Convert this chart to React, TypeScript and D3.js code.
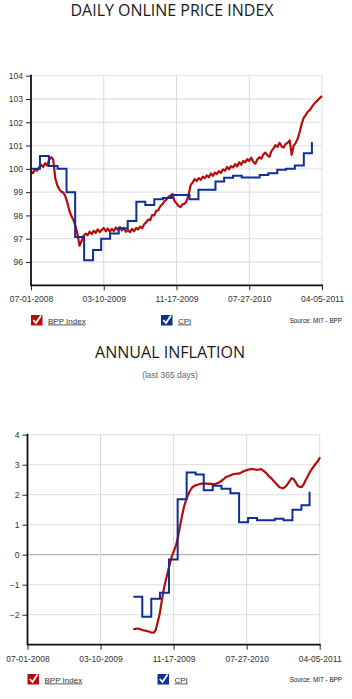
import { useEffect, useRef } from 'react';
import * as d3 from 'd3';

// x axis tick dates (shared by both panels)
const tickDates = ['2008-07-01', '2009-03-10', '2009-11-17', '2010-07-27', '2011-04-05'];

// top panel: index level
const indexTicks = [96, 97, 98, 99, 100, 101, 102, 103, 104];
const cpiIndexStart = '2008-07-01'; // monthly steps
const cpiIndex = [
  100.0, 100.55, 100.12, 100.0, 99.0, 97.07, 96.08, 96.52, 97.0, 97.22, 97.45, 97.76,
  98.59, 98.45, 98.7, 98.75, 98.88, 98.88, 98.7, 99.1, 99.1, 99.46, 99.62, 99.7,
  99.63, 99.63, 99.74, 99.81, 99.96, 100.0, 100.14, 100.67, 101.15,
];
const bppIndexStart = '2008-07-01'; // weekly
const bppIndex = [
  99.88, 99.82, 99.99, 99.92, 100.05, 100.18, 100.08, 100.24, 100.14, 100.4,
  100.5, 100.4, 99.6, 99.3, 99.12, 99.02, 98.98, 98.82, 98.55, 98.2,
  97.98, 97.8, 97.55, 97.2, 96.7, 96.9, 97.12, 97.22, 97.15, 97.3,
  97.2, 97.34, 97.25, 97.4, 97.28, 97.38, 97.46, 97.32, 97.44, 97.3,
  97.42, 97.33, 97.48, 97.38, 97.5, 97.36, 97.46, 97.3, 97.38, 97.28,
  97.42, 97.32, 97.46, 97.4, 97.52, 97.45, 97.62, 97.7, 97.82, 97.8,
  98.02, 98.0, 98.2, 98.22, 98.4, 98.48, 98.6, 98.68, 98.8, 98.84,
  98.92, 98.62, 98.52, 98.4, 98.36, 98.48, 98.5, 98.62, 98.9, 99.3,
  99.42, 99.56, 99.48, 99.6, 99.52, 99.66, 99.6, 99.72, 99.64, 99.8,
  99.7, 99.84, 99.78, 99.9, 99.82, 99.98, 99.92, 100.08, 99.98, 100.12,
  100.06, 100.2, 100.1, 100.28, 100.18, 100.34, 100.28, 100.42, 100.34, 100.48,
  100.3, 100.22, 100.4, 100.5, 100.44, 100.62, 100.7, 100.58, 100.52, 100.76,
  100.88, 101.02, 100.94, 101.12, 100.96, 100.92, 101.06, 101.12, 101.22, 100.6,
  101.0, 101.12, 101.3, 101.6, 101.95, 102.2, 102.32, 102.46, 102.52, 102.66,
  102.78, 102.88, 102.95, 103.05, 103.13,
];

// bottom panel: annual inflation
const inflTicks = [-2, -1, 0, 1, 2, 3, 4];
const cpiInflStart = '2009-07-01'; // monthly steps
const cpiInfl = [
  -1.4, -2.07, -1.47, -1.27, -0.16, 1.85, 2.74, 2.67, 2.15, 2.3, 2.2, 2.05,
  1.08, 1.22, 1.15, 1.15, 1.2, 1.15, 1.5, 1.65, 2.1,
];
const bppInflStart = '2009-07-01'; // weekly
const bppInfl = [
  -2.49, -2.47, -2.46, -2.47, -2.5, -2.52, -2.53, -2.55, -2.57, -2.6,
  -2.6, -2.52, -2.25, -1.98, -1.55, -1.15, -0.85, -0.58, -0.3, -0.05,
  0.12, 0.3, 0.58, 0.95, 1.3, 1.6, 1.82, 2.0, 2.14, 2.24,
  2.29, 2.32, 2.34, 2.36, 2.37, 2.37, 2.37, 2.36, 2.37, 2.35,
  2.35, 2.37, 2.4, 2.44, 2.49, 2.55, 2.6, 2.62, 2.65, 2.68,
  2.69, 2.7, 2.7, 2.73, 2.77, 2.8, 2.82, 2.84, 2.85, 2.85,
  2.84, 2.83, 2.84, 2.85, 2.8, 2.75, 2.68, 2.6, 2.55, 2.47,
  2.4, 2.32, 2.25, 2.23, 2.22, 2.27, 2.35, 2.45, 2.55, 2.52,
  2.42, 2.3, 2.26, 2.25, 2.35, 2.5, 2.62, 2.75, 2.85, 2.95,
  3.04, 3.12, 3.25,
];

const RED = '#b80c0c';
const BLUE = '#0e2f94';
const parse = d3.timeParse('%Y-%m-%d');
const fmt = d3.timeFormat('%m-%d-%Y');
const FONT = 'Liberation Sans, Arial, sans-serif';

function monthly(start: string, vals: number[]) {
  const s = parse(start) as Date;
  return vals.map((v, i) => ({ date: d3.timeMonth.offset(s, i), value: v }));
}
function weekly(start: string, vals: number[]) {
  const s = parse(start) as Date;
  return vals.map((v, i) => ({ date: d3.timeDay.offset(s, i * 7), value: v }));
}

function drawPanel(svg: any, cfg: any) {
  const { left, right, top, bottom, yDomain, yTicks, bpp, cpi, zeroLine, legendY } = cfg;
  const x = d3.scaleTime()
    .domain([parse(tickDates[0]) as Date, parse(tickDates[4]) as Date])
    .range([left, right]);
  const y = d3.scaleLinear().domain(yDomain).range([bottom, top]);
  const g = svg.append('g');

  // grid
  g.selectAll('.hg').data(yTicks).join('line')
    .attr('x1', left).attr('x2', right)
    .attr('y1', (d: number) => y(d)).attr('y2', (d: number) => y(d))
    .attr('stroke', (d: number) => (zeroLine && d === 0 ? '#a0a0a0' : '#e4e4e4'))
    .attr('stroke-width', (d: number) => (zeroLine && d === 0 ? 1 : 1.3));
  g.selectAll('.vg').data(tickDates.slice(1)).join('line')
    .attr('x1', (d: string) => x(parse(d) as Date)).attr('x2', (d: string) => x(parse(d) as Date))
    .attr('y1', top).attr('y2', bottom)
    .attr('stroke', '#dadada').attr('stroke-width', 1);

  // series
  const line = d3.line<any>().x(d => x(d.date)).y(d => y(d.value));
  g.append('path').datum(bpp).attr('d', line)
    .attr('fill', 'none').attr('stroke', RED).attr('stroke-width', 2.2).attr('stroke-linejoin', 'round');
  g.append('path').datum(cpi).attr('d', line.curve(d3.curveStepAfter))
    .attr('fill', 'none').attr('stroke', BLUE).attr('stroke-width', 2);

  // axes
  const yAxis = g.append('g').attr('transform', `translate(${left},0)`)
    .call(d3.axisLeft(y).tickValues(yTicks).tickSize(5).tickPadding(3).tickFormat(d3.format('d')));
  yAxis.select('.domain').remove();
  yAxis.selectAll('line').attr('stroke', '#222');
  yAxis.selectAll('text').attr('font-family', FONT).attr('font-size', 8.5).attr('fill', '#333');

  const xAxis = g.append('g').attr('transform', `translate(0,${bottom})`)
    .call(d3.axisBottom(x).tickValues(tickDates.map(d => parse(d) as Date))
      .tickSize(5).tickPadding(6).tickFormat((d: any) => fmt(d)));
  xAxis.select('.domain').remove();
  xAxis.selectAll('line').attr('stroke', '#222');
  xAxis.selectAll('text').attr('font-family', FONT).attr('font-size', 8.5).attr('fill', '#333');

  g.append('path')
    .attr('d', `M${left},${top - 1}V${bottom}H${right + 1}`)
    .attr('fill', 'none').attr('stroke', '#111').attr('stroke-width', 1.8);

  // legend
  const items = [
    { label: 'BPP Index', color: RED, x: left },
    { label: 'CPI', color: BLUE, x: left + 130 },
  ];
  items.forEach(it => {
    const lg = g.append('g').attr('transform', `translate(${it.x},${legendY})`);
    lg.append('rect').attr('width', 11.5).attr('height', 10.5).attr('fill', it.color);
    lg.append('path').attr('d', 'M2.3,5 L5,8 L10,0.5')
      .attr('fill', 'none').attr('stroke', '#fff').attr('stroke-width', 1.8);
    lg.append('text').attr('x', 17).attr('y', 8.5).text(it.label)
      .attr('font-family', FONT).attr('font-size', 8).attr('fill', '#333')
      .attr('text-decoration', 'underline');
  });
  g.append('text').attr('x', 342).attr('y', legendY + 8.3).attr('text-anchor', 'end')
    .text('Source: MIT - BPP')
    .attr('font-family', FONT).attr('font-size', 6.3).attr('fill', '#222');
}

export default function App() {
  const svgRef = useRef<SVGSVGElement>(null);

  useEffect(() => {
    const svg = d3.select(svgRef.current);
    svg.selectAll('*').remove();

    svg.append('text').attr('x', 172).attr('y', 16).attr('text-anchor', 'middle')
      .attr('font-family', 'Open Sans, sans-serif').attr('font-size', 16)
      .attr('textLength', 203).attr('lengthAdjust', 'spacingAndGlyphs')
      .attr('fill', '#1a1a1a').text('DAILY ONLINE PRICE INDEX');

    drawPanel(svg, {
      left: 31, right: 322, top: 75.7, bottom: 285.3,
      yDomain: [95, 104], yTicks: indexTicks,
      bpp: weekly(bppIndexStart, bppIndex), cpi: monthly(cpiIndexStart, cpiIndex),
      zeroLine: false, legendY: 315,
    });

    svg.append('text').attr('x', 170).attr('y', 358).attr('text-anchor', 'middle')
      .attr('font-family', 'Open Sans, sans-serif').attr('font-size', 16)
      .attr('textLength', 150).attr('lengthAdjust', 'spacingAndGlyphs')
      .attr('fill', '#1a1a1a').text('ANNUAL INFLATION');
    svg.append('text').attr('x', 170).attr('y', 378).attr('text-anchor', 'middle')
      .attr('font-family', FONT).attr('font-size', 8.5).attr('fill', '#666')
      .text('(last 365 days)');

    drawPanel(svg, {
      left: 27.5, right: 319.7, top: 434.7, bottom: 644.7,
      yDomain: [-3, 4], yTicks: inflTicks,
      bpp: weekly(bppInflStart, bppInfl), cpi: monthly(cpiInflStart, cpiInfl),
      zeroLine: true, legendY: 674,
    });
  }, []);

  return (
    <svg
      ref={svgRef}
      width={352}
      height={699}
      style={{ position: 'absolute', left: 0, top: 0, background: '#fff' }}
    />
  );
}
